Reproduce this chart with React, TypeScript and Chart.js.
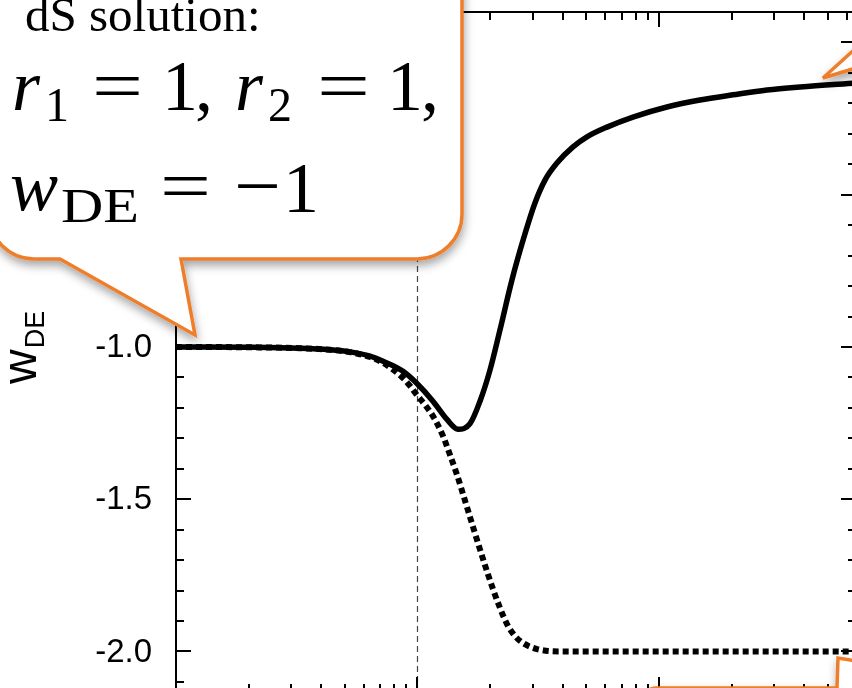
import React, { useEffect, useRef } from "react";
import { Chart, registerables } from "chart.js";

Chart.register(...registerables);

// ---------- data ----------
// horizontal axis is logarithmic (no tick labels visible in the crop)
const xSolid = [0.01, 0.0203, 0.0326, 0.0434, 0.0525, 0.0636, 0.072, 0.0871, 0.0995, 0.1159, 0.1325, 0.1472, 0.165, 0.1815, 0.1996, 0.2196, 0.2461, 0.2761, 0.3065, 0.3373, 0.378, 0.4405, 0.5032, 0.6091, 0.7804, 1.079, 1.478, 2.025, 2.801, 3.837, 6.544];
const ySolid = [-1.0, -1.001, -1.004, -1.009, -1.016, -1.03, -1.047, -1.08, -1.12, -1.178, -1.238, -1.27, -1.252, -1.178, -1.076, -0.944, -0.78, -0.639, -0.527, -0.452, -0.396, -0.343, -0.31, -0.278, -0.245, -0.212, -0.189, -0.172, -0.156, -0.146, -0.133];

const xDotted = [0.01, 0.0203, 0.0326, 0.0434, 0.0525, 0.0636, 0.072, 0.0871, 0.0931, 0.0995, 0.1074, 0.1159, 0.1275, 0.1364, 0.1458, 0.1543, 0.1698, 0.1867, 0.2054, 0.2196, 0.2348, 0.2533, 0.2734, 0.3125, 0.389, 0.4844, 6.544];
const yDotted = [-1.0, -1.001, -1.004, -1.009, -1.017, -1.033, -1.052, -1.102, -1.128, -1.158, -1.19, -1.227, -1.292, -1.355, -1.42, -1.483, -1.591, -1.696, -1.795, -1.857, -1.91, -1.949, -1.972, -1.992, -2.0, -2.0, -2.0];

const markerX = 0.1; // vertical dashed line

const xMin = 0.01;
const xMax = 6.544;
const yMin = -2.133;
const yMax = 0.1;

const yMajorTicks = [0.0, -0.5, -1.0, -1.5, -2.0];
const yTickLabels = ["0.0", "-0.5", "-1.0", "-1.5", "-2.0"];
const yMinorStep = 0.1;
const xDecades = [0.01, 0.1, 1];

// ---------- styles ----------
const ORANGE = "#EE7E2C";
const SANS = '"Liberation Sans", Arial, Helvetica, sans-serif';
const SERIF = '"Liberation Serif", "Times New Roman", serif';
const CANVAS_W = 880;
const CANVAS_H = 720;

const framePlugin = {
  id: "frameTicks",
  afterDraw(chart: any) {
    const { ctx, chartArea: a, scales } = chart;
    const xs = scales.x;
    const ys = scales.y;
    ctx.save();
    ctx.strokeStyle = "#000";
    ctx.lineWidth = 2;
    ctx.strokeRect(a.left, a.top, a.right - a.left, a.bottom - a.top);

    // y ticks (left and right, pointing inward)
    ctx.beginPath();
    const kMin = Math.ceil(yMin / yMinorStep - 1e-6);
    const kMax = Math.floor(yMax / yMinorStep + 1e-6);
    for (let k = kMin; k <= kMax; k++) {
      const v = k * yMinorStep;
      const py = Math.round(ys.getPixelForValue(v));
      const len = k % 5 === 0 ? 15 : 8;
      ctx.moveTo(a.left, py);
      ctx.lineTo(a.left + len, py);
      ctx.moveTo(a.right, py);
      ctx.lineTo(a.right - len, py);
    }
    // x ticks (top and bottom, log minor ticks)
    for (const d of xDecades) {
      for (let m = 1; m <= 9; m++) {
        const v = m * d;
        if (v < xMin * 0.999 || v > xMax) continue;
        const px = Math.round(xs.getPixelForValue(v));
        const len = m === 1 ? 15 : 8;
        ctx.moveTo(px, a.top);
        ctx.lineTo(px, a.top + len);
        ctx.moveTo(px, a.bottom);
        ctx.lineTo(px, a.bottom - len);
      }
    }
    ctx.stroke();

    // y tick labels
    ctx.fillStyle = "#000";
    ctx.font = `33px ${SANS}`;
    ctx.textAlign = "right";
    ctx.textBaseline = "middle";
    yMajorTicks.forEach((v, i) => {
      const py = ys.getPixelForValue(v);
      ctx.fillText(yTickLabels[i], a.left - 24, py + 1);
    });

    // y axis title  w_DE (rotated)
    ctx.save();
    ctx.translate(36, 384);
    ctx.rotate(-Math.PI / 2);
    ctx.textAlign = "left";
    ctx.textBaseline = "alphabetic";
    ctx.font = `48px ${SANS}`;
    ctx.fillText("w", 0, 0);
    const ww = ctx.measureText("w").width;
    ctx.font = `27px ${SANS}`;
    ctx.fillText("DE", ww + 1, 8);
    ctx.restore();

    ctx.restore();
  },
};

export default function App() {
  const ref = useRef<HTMLCanvasElement | null>(null);

  useEffect(() => {
    if (!ref.current) return;
    const chart = new Chart(ref.current, {
      type: "line",
      data: {
        datasets: [
          {
            label: "solid",
            data: xSolid.map((x, i) => ({ x, y: ySolid[i] })),
            borderColor: "#000",
            borderWidth: 5.5,
            pointRadius: 0,
            cubicInterpolationMode: "monotone",
            fill: false,
          },
          {
            label: "dotted",
            data: xDotted.map((x, i) => ({ x, y: yDotted[i] })),
            borderColor: "#000",
            borderWidth: 6,
            borderDash: [6, 4],
            borderCapStyle: "butt",
            pointRadius: 0,
            cubicInterpolationMode: "monotone",
            fill: false,
          },
          {
            label: "marker",
            data: [
              { x: markerX, y: yMin },
              { x: markerX, y: yMax },
            ],
            borderColor: "#444",
            borderWidth: 1.2,
            borderDash: [6, 4],
            pointRadius: 0,
            fill: false,
          },
        ],
      },
      options: {
        responsive: false,
        animation: false,
        devicePixelRatio: 1,
        layout: {
          padding: { left: 176, top: 12, right: CANVAS_W - 856, bottom: CANVAS_H - 692 },
        },
        plugins: { legend: { display: false }, tooltip: { enabled: false } },
        scales: {
          x: { type: "logarithmic", min: xMin, max: xMax, display: false },
          y: { type: "linear", min: yMin, max: yMax, display: false },
        },
      },
      plugins: [framePlugin],
    });
    return () => chart.destroy();
  }, []);

  const M = 72; // math font size
  const S = 48; // subscript size

  return (
    <div
      style={{
        position: "fixed",
        left: 0,
        top: 0,
        width: 852,
        height: 688,
        overflow: "hidden",
        background: "#fff",
      }}
    >
      <canvas
        ref={ref}
        width={CANVAS_W}
        height={CANVAS_H}
        style={{ position: "absolute", left: 0, top: 0, width: CANVAS_W, height: CANVAS_H }}
      />
      <svg
        width={852}
        height={688}
        style={{ position: "absolute", left: 0, top: 0, pointerEvents: "none" }}
      >
        <defs>
          <filter id="sh" x="-30%" y="-30%" width="160%" height="170%">
            <feDropShadow dx="1" dy="5" stdDeviation="5" floodColor="#000" floodOpacity="0.35" />
          </filter>
        </defs>
        {/* top-left callout */}
        <path
          d="M -11,-60 H 462 V 214 A 45 45 0 0 1 417 259 H 181 L 195 335 L 60 259 H 34 A 45 45 0 0 1 -11 214 Z"
          fill="#fff"
          stroke={ORANGE}
          strokeWidth={3.5}
          strokeLinejoin="miter"
          filter="url(#sh)"
        />
        {/* top-right callout pointer */}
        <path
          d="M 823,78 L 856,48 L 900,38 L 900,90 L 856,68 Z"
          fill="#fff"
          stroke={ORANGE}
          strokeWidth={3.5}
          strokeLinejoin="miter"
          filter="url(#sh)"
        />
        {/* bottom-right callout */}
        <path
          d="M 640,730 V 705 A 17 17 0 0 1 657,688 H 837 L 838,658 L 900,668 V 730 Z"
          fill="#fff"
          stroke={ORANGE}
          strokeWidth={3.5}
          strokeLinejoin="miter"
          filter="url(#sh)"
        />
        <g fill="#000" fontFamily={SERIF}>
          <text x={25} y={31} fontSize={49}>dS solution:</text>
          <text x={12} y={110} fontSize={M} fontStyle="italic">r</text>
          <text x={45} y={121} fontSize={S}>1</text>
          <text x={92} y={110} fontSize={M} textLength={51} lengthAdjust="spacingAndGlyphs">=</text>
          <text x={162} y={110} fontSize={M}>1</text>
          <text x={195} y={110} fontSize={M}>,</text>
          <text x={235} y={110} fontSize={M} fontStyle="italic">r</text>
          <text x={268} y={121} fontSize={S}>2</text>
          <text x={317} y={110} fontSize={M} textLength={53} lengthAdjust="spacingAndGlyphs">=</text>
          <text x={387} y={110} fontSize={M}>1</text>
          <text x={421} y={110} fontSize={M}>,</text>
          <text x={10} y={210} fontSize={M} fontStyle="italic">w</text>
          <text x={61} y={222} fontSize={S} textLength={78} lengthAdjust="spacingAndGlyphs">DE</text>
          <text x={160} y={210} fontSize={M} textLength={51} lengthAdjust="spacingAndGlyphs">=</text>
          <text x={234} y={210} fontSize={M} textLength={47} lengthAdjust="spacingAndGlyphs">−</text>
          <text x={283} y={212} fontSize={M}>1</text>
        </g>
      </svg>
    </div>
  );
}
